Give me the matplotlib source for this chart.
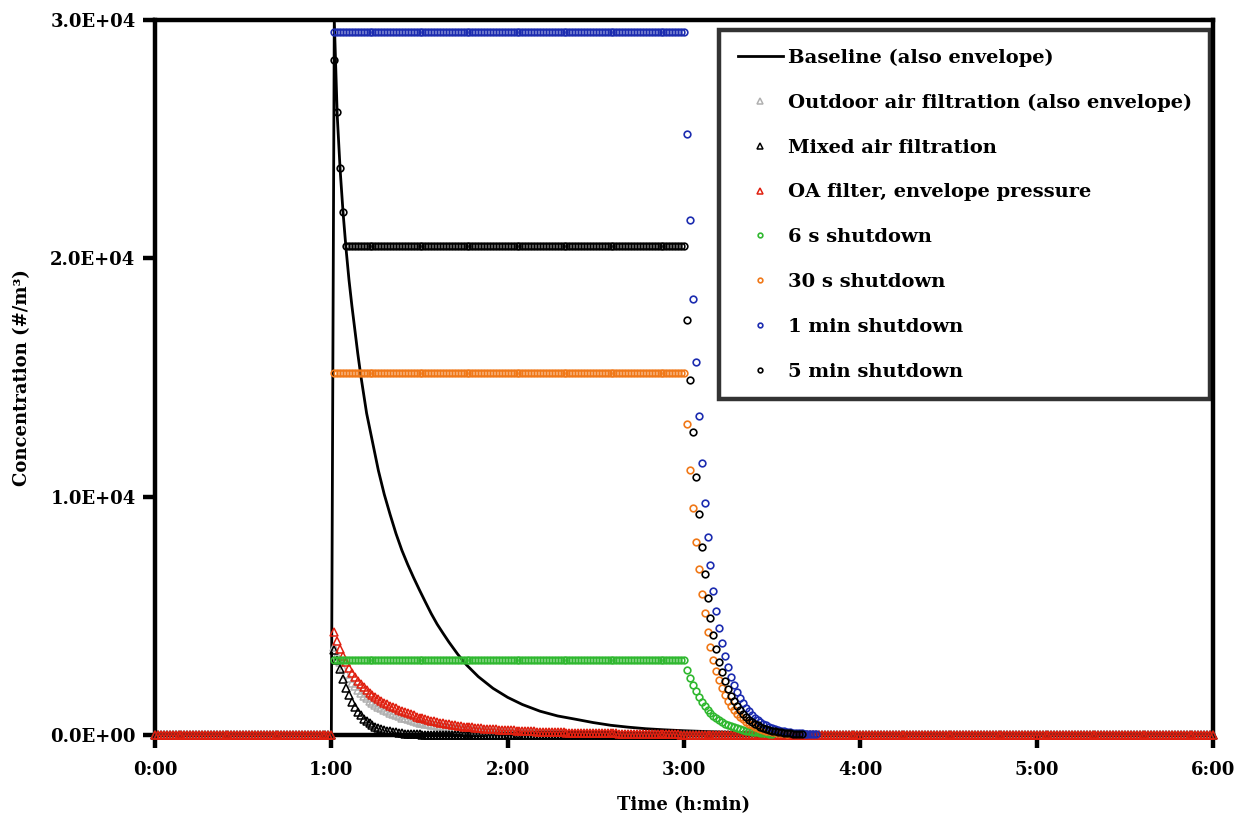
import numpy as np
import matplotlib
matplotlib.use("Agg")
import matplotlib.pyplot as plt

# %% data (time in minutes, concentration in #/m3)
tick_minutes = [0, 60, 120, 180, 240, 300, 360]
tick_labels = ['0:00', '1:00', '2:00', '3:00', '4:00', '5:00', '6:00']

# baseline line, points
base_t = [0, 60, 61, 62, 63, 64, 65, 66, 67, 68, 69, 70, 72, 74, 76, 78, 80, 82, 84, 86, 88,
          90, 92, 94, 96, 98, 100, 103, 106, 110, 115, 120, 125, 131, 137, 143, 149, 155,
          161, 167, 173, 180, 190, 200, 210, 220, 235, 250, 270, 300, 360]
base_v = [0, 0, 30000, 26000, 23700, 21900, 20400, 19100, 18000, 17000, 16000, 15100, 13500,
          12300, 11100, 10100, 9250, 8450, 7750, 7150, 6600, 6080, 5580, 5090, 4650, 4270,
          3900, 3390, 2940, 2450, 1960, 1580, 1280, 1000, 800, 665, 525, 410, 330, 265, 221,
          180, 135, 100, 72, 50, 28, 15, 6, 2, 0]

# triangle series, one value per minute from 1:01
gray_tri = [3700, 3350, 3050, 2800, 2580, 2380, 2200, 2040, 1900, 1770, 1650, 1540, 1440, 1350,
            1270, 1190, 1120, 1050, 990, 930, 875, 825, 780, 735, 695, 655, 620, 585, 555, 525,
            495, 470, 445, 420, 400, 380, 360, 340, 322, 305, 290, 275, 260, 247, 234, 222, 210,
            200, 190, 180, 171, 162, 154, 146, 139, 132, 125, 119, 113, 107, 102, 97, 92, 87,
            83, 79, 75, 71, 67, 64, 61, 58, 55, 52, 49, 47, 45, 43, 41, 39, 37, 35, 33, 31, 30,
            28, 27, 25, 24, 23, 22, 21, 20, 19, 18, 17, 16, 15, 14, 13]
mixed_tri = [3570, 3150, 2750, 2350, 1980, 1670, 1400, 1170, 980, 820, 690, 580, 490, 415, 350,
             295, 250, 210, 178, 150, 127, 107, 90, 76, 64, 54, 45, 38, 32, 27, 22, 18, 15, 12,
             10, 8, 6, 5, 4, 3]
red_tri = [4320, 3950, 3600, 3300, 3050, 2820, 2620, 2440, 2280, 2130, 2000, 1880, 1770, 1670,
           1580, 1500, 1420, 1350, 1290, 1230, 1170, 1120, 1070, 1020, 960, 910, 865, 820, 775,
           735, 700, 665, 630, 600, 570, 540, 515, 490, 465, 445, 425, 405, 388, 372, 357, 343,
           330, 318, 306, 295, 284, 274, 264, 255, 246, 238, 230, 222, 215, 208, 201, 194, 187,
           180, 174, 168, 162, 156, 151, 146, 141, 136, 132, 128, 124, 120, 116, 112, 109, 106,
           103, 100, 97, 94, 91, 88, 86, 84, 82, 80, 78, 76, 74, 72, 70, 68, 66, 64, 62, 60, 58,
           56, 54, 52, 50, 48, 46, 44, 42, 40, 38, 36, 34, 32, 30, 28, 26, 24, 22, 20, 15, 10, 6,
           3, 1]

# shutdown series: level held 1:01-3:00, then decay after 3:00 (one value per minute)
green_level = 3150
green_decay = [2730, 2380, 2100, 1830, 1600, 1400, 1220, 1070, 930, 815, 710, 620, 545, 475, 415,
               365, 320, 280, 245, 215, 185, 162, 142, 124, 108, 95, 83, 72, 63, 55]
orange_level = 15200
orange_decay = [13050, 11120, 9510, 8110, 6950, 5920, 5110, 4330, 3700, 3150, 2700, 2300, 1970,
                1680, 1440, 1230, 1050, 900, 770, 655, 560, 480, 410, 350, 300, 255, 218, 186,
                160, 136, 116, 100, 85, 73, 62]
blue_level = 29500
blue_decay = [25200, 21600, 18300, 15650, 13400, 11400, 9750, 8300, 7130, 6060, 5220, 4480, 3850,
              3310, 2850, 2450, 2100, 1810, 1560, 1340, 1150, 990, 850, 730, 630, 540, 465, 400,
              345, 295, 255, 220, 190, 160, 140, 120, 100, 88, 75, 65, 55, 48, 41, 35, 30]
black_rise = [28300, 26150, 23800, 21950]
black_level = 20500
black_decay = [17400, 14900, 12730, 10830, 9260, 7900, 6740, 5740, 4900, 4200, 3600, 3080, 2630,
               2250, 1930, 1650, 1410, 1210, 1030, 880, 755, 645, 550, 470, 405, 345, 295, 252,
               216, 185, 158, 135, 115, 99, 85, 72, 62, 53, 45, 38]

minutes = np.arange(0, 361)


def tri_series(vals):
    y = np.zeros(len(minutes))
    y[61:61 + len(vals)] = vals
    return y


def shut_series(level, decay, rise=()):
    y = list(rise) + [level] * (120 - len(rise)) + list(decay)
    return np.arange(61, 61 + len(y)), np.array(y)


# %% plot
plt.rcParams['font.family'] = ['DejaVu Serif']
plt.rcParams['font.weight'] = 'bold'

fig = plt.figure(figsize=(12.42, 8.22), dpi=100)
ax = fig.add_axes([0.1248, 0.1058, 0.8519, 0.8699])

ax.plot(base_t, base_v, color='black', lw=2.0, label='Baseline (also envelope)', zorder=3)

mk = dict(ls='none', mfc='none', clip_on=False, zorder=4)
ax.plot(minutes, tri_series(gray_tri), marker='^', ms=5.5, mew=1.1, color='#b0b0b0',
        label='Outdoor air filtration (also envelope)', **mk)
ax.plot(minutes, tri_series(mixed_tri), marker='^', ms=5.5, mew=1.1, color='black',
        label='Mixed air filtration', **mk)
ax.plot(minutes, tri_series(red_tri), marker='^', ms=5.5, mew=1.1, color='#e02010',
        label='OA filter, envelope pressure', **mk)

for level, decay, rise, col, lab in [
        (green_level, green_decay, (), '#30b830', '6 s shutdown'),
        (orange_level, orange_decay, (), '#f07818', '30 s shutdown'),
        (blue_level, blue_decay, (), '#1c2cb0', '1 min shutdown'),
        (black_level, black_decay, black_rise, 'black', '5 min shutdown')]:
    xs, ys = shut_series(level, decay, rise)
    ax.plot(xs, ys, marker='o', ms=4.8, mew=1.2, color=col, label=lab, **mk)

ax.set_xlim(0, 360)
ax.set_ylim(0, 30000)
ax.set_xticks(tick_minutes)
ax.set_xticklabels(tick_labels)
ax.set_yticks([0, 10000, 20000, 30000])
ax.set_yticklabels(['%.1E' % v for v in [0, 10000, 20000, 30000]])
ax.tick_params(direction='out', length=9, width=3.2, labelsize=13)
ax.tick_params(axis='x', pad=10)
ax.tick_params(axis='y', pad=5)
for s in ax.spines.values():
    s.set_linewidth(3.2)

ax.set_xlabel('Time (h:min)', fontsize=13, fontweight='bold', labelpad=12)
ax.set_ylabel('Concentration (#/m³)', fontsize=13, fontweight='bold', labelpad=14)

leg = ax.legend(loc='upper right', bbox_to_anchor=(0.9972, 0.986), borderaxespad=0,
                fontsize=14, frameon=True, fancybox=False, edgecolor='black',
                handlelength=2.3, handletextpad=0.25, labelspacing=1.38, markerscale=0.7,
                borderpad=0.95)
leg.get_frame().set_linewidth(3.2)
leg.set_zorder(6)

fig.savefig('out.png', dpi=100)
